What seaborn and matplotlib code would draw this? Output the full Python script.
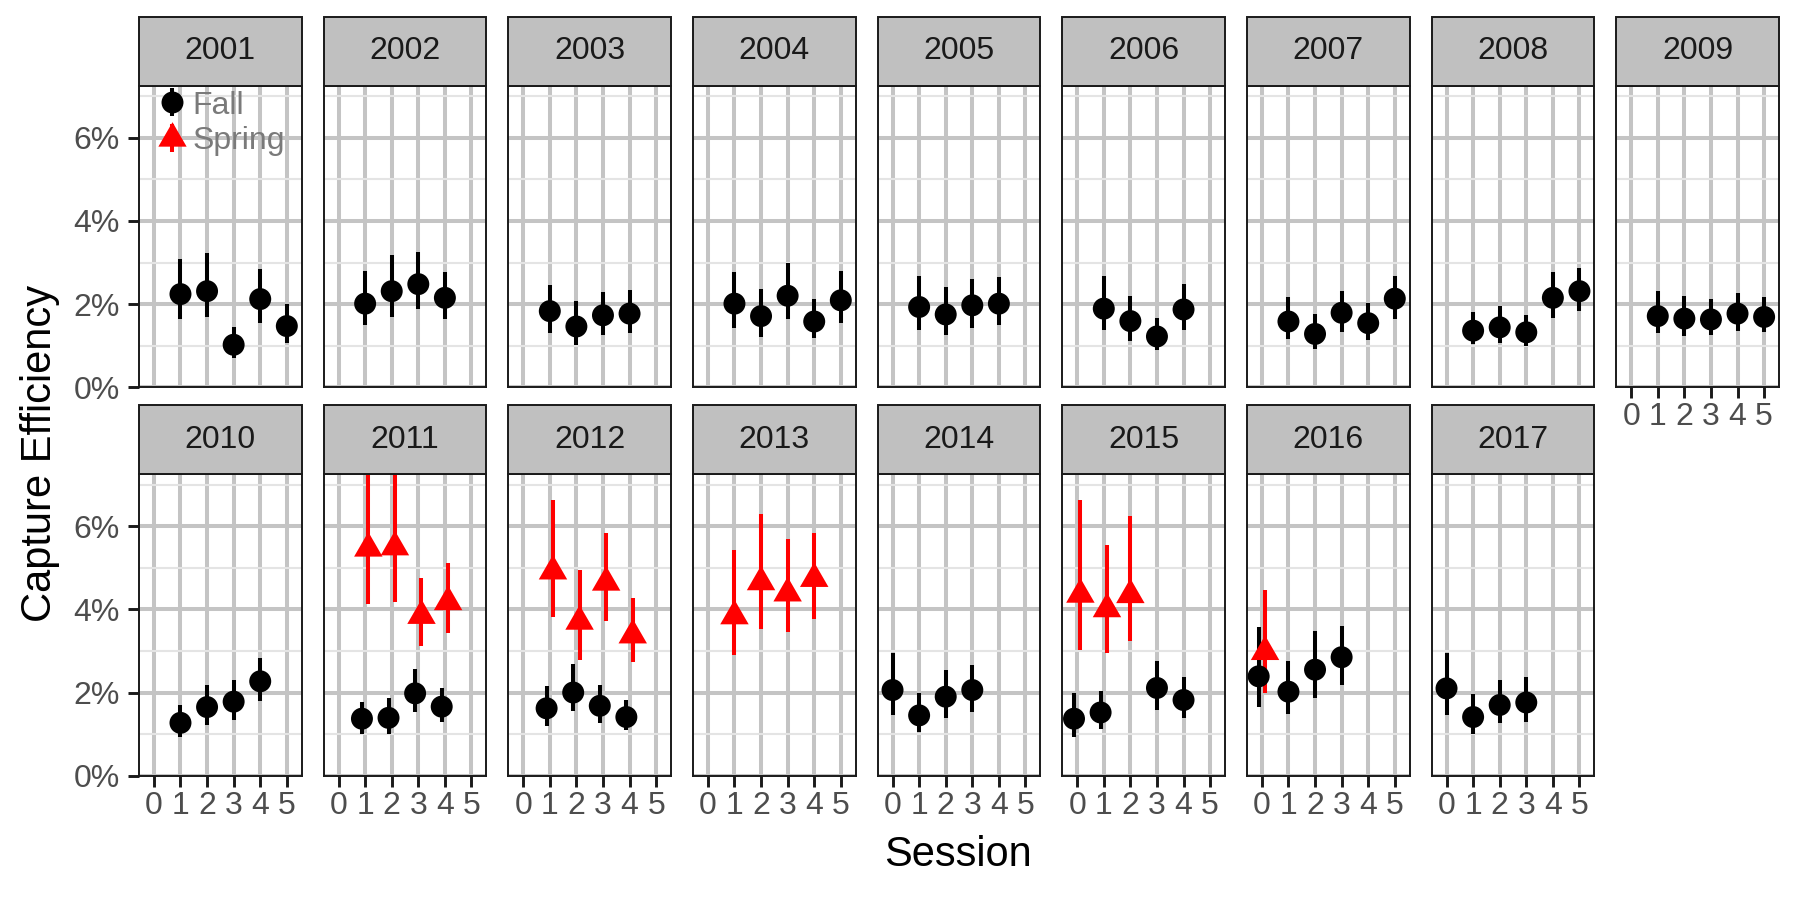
import matplotlib
matplotlib.use("Agg")
import matplotlib.pyplot as plt
import seaborn as sns
import pandas as pd
import numpy as np
from matplotlib.patches import Rectangle
from matplotlib.lines import Line2D
from matplotlib.legend_handler import HandlerTuple
from matplotlib.ticker import FuncFormatter, FixedLocator

plt.rcParams["font.family"] = ["Liberation Sans", "DejaVu Sans"]

# ---------------- data (percent) ----------------
year = [2001, 2001, 2001, 2001, 2001,
        2002, 2002, 2002, 2002,
        2003, 2003, 2003, 2003,
        2004, 2004, 2004, 2004, 2004,
        2005, 2005, 2005, 2005,
        2006, 2006, 2006, 2006,
        2007, 2007, 2007, 2007, 2007,
        2008, 2008, 2008, 2008, 2008,
        2009, 2009, 2009, 2009, 2009,
        2010, 2010, 2010, 2010,
        2011, 2011, 2011, 2011,
        2011, 2011, 2011, 2011,
        2012, 2012, 2012, 2012,
        2012, 2012, 2012, 2012,
        2013, 2013, 2013, 2013,
        2014, 2014, 2014, 2014,
        2015, 2015, 2015, 2015,
        2015, 2015, 2015,
        2016, 2016, 2016, 2016,
        2016,
        2017, 2017, 2017, 2017]
season = (["Fall"] * 45
          + ["Fall"] * 4 + ["Spring"] * 4
          + ["Fall"] * 4 + ["Spring"] * 4
          + ["Spring"] * 4
          + ["Fall"] * 4
          + ["Fall"] * 4 + ["Spring"] * 3
          + ["Fall"] * 4 + ["Spring"]
          + ["Fall"] * 4)
session = [1, 2, 3, 4, 5,
           1, 2, 3, 4,
           1, 2, 3, 4,
           1, 2, 3, 4, 5,
           1, 2, 3, 4,
           1, 2, 3, 4,
           1, 2, 3, 4, 5,
           1, 2, 3, 4, 5,
           1, 2, 3, 4, 5,
           1, 2, 3, 4,
           1, 2, 3, 4,
           1, 2, 3, 4,
           1, 2, 3, 4,
           1, 2, 3, 4,
           1, 2, 3, 4,
           0, 1, 2, 3,
           0, 1, 3, 4,
           0, 1, 2,
           0, 1, 2, 3,
           0,
           0, 1, 2, 3]
estimate = [2.24, 2.31, 1.02, 2.12, 1.47,
            2.01, 2.31, 2.48, 2.15,
            1.83, 1.46, 1.73, 1.77,
            2.01, 1.71, 2.20, 1.58, 2.09,
            1.93, 1.75, 1.97, 2.01,
            1.89, 1.59, 1.22, 1.87,
            1.58, 1.28, 1.79, 1.54, 2.13,
            1.36, 1.44, 1.32, 2.15, 2.31,
            1.71, 1.65, 1.63, 1.77, 1.69,
            1.27, 1.65, 1.78, 2.27,
            1.37, 1.39, 1.98, 1.66,
            5.47, 5.50, 3.85, 4.18,
            1.62, 2.00, 1.68, 1.41,
            4.92, 3.71, 4.65, 3.38,
            3.84, 4.66, 4.39, 4.74,
            2.06, 1.45, 1.90, 2.06,
            1.37, 1.52, 2.11, 1.82,
            4.36, 4.01, 4.35,
            2.39, 2.02, 2.55, 2.85,
            2.98,
            2.10, 1.41, 1.70, 1.76]
lower = [1.65, 1.69, 0.70, 1.54, 1.06,
         1.49, 1.69, 1.88, 1.63,
         1.30, 1.02, 1.26, 1.30,
         1.43, 1.20, 1.65, 1.19, 1.55,
         1.38, 1.26, 1.43, 1.50,
         1.38, 1.12, 0.89, 1.38,
         1.16, 0.92, 1.32, 1.14, 1.63,
         1.04, 1.06, 1.00, 1.67, 1.83,
         1.30, 1.22, 1.26, 1.36, 1.32,
         0.92, 1.22, 1.34, 1.80,
         0.99, 1.01, 1.52, 1.30,
         4.13, 4.19, 3.11, 3.44,
         1.19, 1.56, 1.27, 1.09,
         3.83, 2.79, 3.72, 2.74,
         2.90, 3.52, 3.46, 3.77,
         1.46, 1.05, 1.39, 1.54,
         0.92, 1.13, 1.59, 1.39,
         3.03, 2.94, 3.24,
         1.66, 1.49, 1.88, 2.19,
         2.00,
         1.45, 1.01, 1.26, 1.29]
upper = [3.08, 3.23, 1.44, 2.84, 2.00,
         2.80, 3.19, 3.25, 2.77,
         2.46, 2.07, 2.30, 2.35,
         2.78, 2.37, 2.99, 2.13, 2.80,
         2.68, 2.40, 2.60, 2.65,
         2.68, 2.19, 1.67, 2.48,
         2.16, 1.75, 2.31, 2.03, 2.68,
         1.81, 1.95, 1.73, 2.77, 2.87,
         2.31, 2.19, 2.11, 2.27, 2.16,
         1.70, 2.17, 2.30, 2.84,
         1.78, 1.87, 2.57, 2.12,
         7.40, 7.40, 4.76, 5.11,
         2.15, 2.69, 2.18, 1.82,
         6.64, 4.95, 5.83, 4.27,
         5.43, 6.29, 5.69, 5.83,
         2.95, 2.00, 2.55, 2.67,
         2.00, 2.03, 2.76, 2.38,
         6.64, 5.55, 6.24,
         3.57, 2.76, 3.48, 3.61,
         4.46,
         2.94, 1.96, 2.31, 2.37]

years = list(range(2001, 2018))
seasons = ["Fall", "Spring"]
session_ticks = [0, 1, 2, 3, 4, 5]
pct_ticks = [0, 2, 4, 6]

df = pd.DataFrame({"Year": year, "Season": season, "Session": session,
                   "Estimate": estimate, "Lower": lower, "Upper": upper})

# dodge where both seasons share a session
dodge = 0.12
n_same = df.groupby(["Year", "Session"])["Season"].transform("count")
df["x"] = df["Session"] + np.where(n_same > 1,
                                   np.where(df["Season"] == "Fall", -dodge, dodge), 0.0)

palette = {"Fall": "black", "Spring": "#FF0000"}
tri = [(0.0, 1.0), (-0.866, -0.5), (0.866, -0.5)]
markers = {"Fall": "o", "Spring": tri}
sizes = {"Fall": 250, "Spring": 560}

LW = 2.9
GRID = "#C4C4C4"
MINOR = "#E4E4E4"
TXT = "#4D4D4D"
FS = 23

g = sns.FacetGrid(df, col="Year", col_order=years, col_wrap=9,
                  sharex=True, sharey=True, despine=False,
                  height=3, aspect=0.54)


def draw(data, **kw):
    ax = plt.gca()
    for s in seasons:
        d = data[data["Season"] == s]
        if len(d):
            ax.vlines(d["x"], d["Lower"], d["Upper"], color=palette[s],
                      lw=LW, zorder=2)
    sns.scatterplot(data=data, x="x", y="Estimate", hue="Season", style="Season",
                    size="Season", hue_order=seasons, style_order=seasons,
                    size_order=seasons, palette=palette, markers=markers,
                    sizes=sizes, linewidth=0, legend=False, ax=ax, zorder=3)


g.map_dataframe(draw)
g.set_axis_labels("", "")
g.set_titles(template="")

fig = g.figure
fig.set_size_inches(17.99, 8.99)
fig.subplots_adjust(left=139 / 1799, right=1779 / 1799,
                    top=1 - 86 / 899, bottom=1 - 775.6 / 899,
                    wspace=0.135, hspace=0.29)

ncol = 9
n = len(years)
strip_h = 69 / 300.6
for i, (ax, yr) in enumerate(zip(g.axes.flat, years)):
    ax.set_xlim(-0.56, 5.56)
    ax.set_ylim(0, 7.25)
    ax.xaxis.set_major_locator(FixedLocator(session_ticks))
    ax.yaxis.set_major_locator(FixedLocator(pct_ticks))
    ax.yaxis.set_minor_locator(FixedLocator([1, 3, 5, 7]))
    ax.yaxis.set_major_formatter(FuncFormatter(lambda v, p: f"{int(round(v))}%"))
    ax.set_axisbelow(True)
    ax.grid(False)
    ax.grid(True, which="major", axis="both", color=GRID, lw=LW)
    ax.grid(True, which="minor", axis="y", color=MINOR, lw=1.5)
    for sp in ax.spines.values():
        sp.set_color("#1A1A1A")
        sp.set_linewidth(1.4)
    first_col = (i % ncol == 0)
    bottom = (i >= n - ncol)
    ax.tick_params(which="minor", length=0)
    ax.tick_params(axis="y", which="major", left=first_col, labelleft=first_col,
                   length=8, width=2.1, color="#1A1A1A", labelsize=FS,
                   labelcolor=TXT, pad=6)
    ax.tick_params(axis="x", which="major", bottom=bottom, labelbottom=bottom,
                   length=8, width=2.1, color="#1A1A1A", labelsize=FS,
                   labelcolor=TXT, pad=3)
    ax.set_xlabel("")
    ax.set_ylabel("")
    # strip
    ax.add_patch(Rectangle((0, 1), 1, strip_h, transform=ax.transAxes,
                           clip_on=False, facecolor="#C0C0C0",
                           edgecolor="#1A1A1A", lw=1.4, zorder=5))
    ax.text(0.5, 1 + strip_h / 2, str(yr), transform=ax.transAxes,
            ha="center", va="center", fontsize=FS, color="#1A1A1A",
            zorder=6)

# legend inside the first panel
ax0 = g.axes.flat[0]
h_fall = (Line2D([], [], ls="", marker="|", ms=20, mew=LW, color="black"),
          Line2D([], [], ls="", marker="o", ms=15.8, mew=0, color="black"))
h_spring = (Line2D([], [], ls="", marker="|", ms=20, mew=LW, color="#FF0000"),
            Line2D([], [], ls="", marker=tri, ms=23.5, mew=0, color="#FF0000"))
ax0.legend([h_fall, h_spring], seasons,
           handler_map={tuple: HandlerTuple(ndivide=1, pad=0)},
           loc="upper left", bbox_to_anchor=(0.107, 0.985),
           frameon=False, fontsize=FS, labelcolor="#7A7A7A",
           handlelength=1.0, handletextpad=0.12, borderpad=0,
           borderaxespad=0, labelspacing=0.18)

fig.text(40 / 1799, 1 - 453 / 899, "Capture Efficiency", rotation=90,
         fontsize=30, ha="center", va="center", color="black")
fig.text(958 / 1799, 1 - 855 / 899, "Session", fontsize=30,
         ha="center", va="center", color="black")

fig.savefig("out.png", dpi=100, facecolor="white")
